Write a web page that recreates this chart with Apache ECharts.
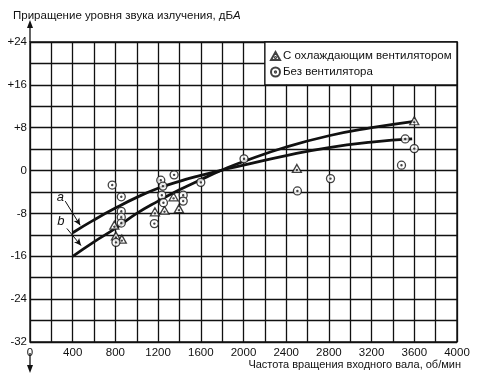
<!DOCTYPE html>
<html><head><meta charset="utf-8">
<script src="https://cdn.jsdelivr.net/npm/echarts@6/dist/echarts.min.js"></script>
<style>html,body{margin:0;padding:0;background:#fff}#c{width:482px;height:388px}</style>
</head><body><div id="c"></div>
<script>
// ---- data ----
const yTitle = 'Приращение уровня звука излучения, дБ';
const yTitleUnitItalic = 'А';
const xTitle = 'Частота вращения входного вала, об/мин';
const legendFan = 'С охлаждающим вентилятором';
const legendNoFan = 'Без вентилятора';

const curveARpm = [400, 600, 800, 1000, 1200, 1400, 1600, 1800, 2000, 2400, 2800, 3200, 3580];
const curveA    = [-11.6, -9.2, -7.0, -5.0, -3.3, -2.0, -0.9, 0.1, 1.0, 2.8, 4.3, 5.3, 5.9];
const curveBRpm = [400, 600, 800, 1000, 1200, 1400, 1600, 1800, 2000, 2400, 2800, 3200, 3600];
const curveB    = [-16.0, -13.3, -10.8, -8.0, -5.7, -3.6, -1.7, 0.1, 1.7, 4.4, 6.5, 8.0, 9.2];

const fanRpm = [790, 805, 860, 1170, 1260, 1345, 1395, 2500, 3600];
const fanDb  = [-10.2, -12.2, -12.8, -7.7, -7.4, -4.9, -7.1, 0.4, 9.3];

const noFanRpm = [770, 855, 855, 855, 855, 805, 1225, 1245, 1235, 1250, 1165, 1350, 1435, 1435, 1600, 2005, 2505, 2815, 3515, 3600, 3480];
const noFanDb  = [-2.7, -4.9, -7.6, -8.7, -9.8, -13.4, -1.8, -2.9, -4.6, -6.0, -9.9, -0.8, -4.6, -5.7, -2.2, 2.2, -3.8, -1.5, 5.9, 4.1, 1.0];

const curveLabels = ['a', 'b'];
const labelPos = [[285, -5.0], [288, -9.4]];
const arrowA = [[330, -5.7], [470, -10.2]];
const arrowB = [[345, -10.8], [478, -14.0]];
const legendBox = [[2200, 24], [4000, 16]];

// ---- chart ----
const zip = (xs, ys) => xs.map((x, i) => [x, ys[i]]);
const ringPath = 'path://M0,10A10,10 0 1,1 20,10A10,10 0 1,1 0,10Z M8.6,10A1.4,1.4 0 1,1 11.4,10A1.4,1.4 0 1,1 8.6,10Z';
const triPath = 'path://M10,0L20,18L0,18Z M8.8,12.5A1.2,1.2 0 1,1 11.2,12.5A1.2,1.2 0 1,1 8.8,12.5Z';
const font = 'Liberation Sans, Arial, sans-serif';

const chart = echarts.init(document.getElementById('c'), null, {renderer: 'canvas'});
const markerStyle = {color: '#fff', borderColor: '#111', borderWidth: 1.3};

chart.setOption({
  animation: false,
  backgroundColor: '#fff',
  textStyle: {fontFamily: font, color: '#111'},
  title: [{
    text: '{n|' + yTitle + '}{i|' + yTitleUnitItalic + '}',
    left: 8, top: 5,
    textStyle: {rich: {
      n: {fontSize: 11.5, fontFamily: font, color: '#111', fontWeight: 'normal'},
      i: {fontSize: 11.5, fontFamily: font, color: '#111', fontWeight: 'normal', fontStyle: 'italic'}
    }}
  }, {
    text: xTitle, right: 16, top: 354,
    textStyle: {fontSize: 11, fontWeight: 'normal', fontFamily: font, color: '#111'}
  }],
  legend: {
    data: [{name: legendFan, icon: triPath}, {name: legendNoFan, icon: ringPath}],
    orient: 'vertical', left: 265, top: 45, itemWidth: 9, itemHeight: 9, itemGap: 4,
    textStyle: {fontSize: 11.5, fontFamily: font, color: '#111', padding: [0, 0, 0, -2]}
  },
  grid: {left: 30, right: 25, top: 42, bottom: 46, show: true, borderColor: '#111', borderWidth: 1.4},
  xAxis: {
    type: 'value', min: 0, max: 4000, interval: 200,
    axisLine: {show: false}, axisTick: {show: false},
    axisLabel: {fontSize: 11.5, color: '#111', margin: 5,
      formatter: v => (v % 400 === 0 ? String(v) : '')},
    splitLine: {show: true, lineStyle: {color: '#111', width: 1.3}}
  },
  yAxis: {
    type: 'value', min: -32, max: 24, interval: 4,
    axisLine: {show: false}, axisTick: {show: false},
    axisLabel: {fontSize: 11.5, color: '#111', margin: 3,
      formatter: v => (v % 8 === 0 ? (v > 0 ? '+' + v : String(v)) : '')},
    splitLine: {show: true, lineStyle: {color: '#111', width: 1.3}}
  },
  series: [
    {
      name: 'legendArea', type: 'line', data: [], silent: true,
      markArea: {silent: true,
        itemStyle: {color: '#fff', opacity: 1, borderColor: '#111', borderWidth: 1.4},
        data: [[{coord: legendBox[0]}, {coord: legendBox[1]}]]}
    },
    {
      name: 'a', type: 'line', smooth: true, symbol: 'none',
      lineStyle: {color: '#111', width: 2.8}, data: zip(curveARpm, curveA), z: 3,
      markLine: {silent: true, symbol: ['none', 'arrow'], symbolSize: [5, 7],
        lineStyle: {color: '#111', width: 1, type: 'solid'}, label: {show: false},
        data: [[{coord: arrowA[0]}, {coord: arrowA[1]}], [{coord: arrowB[0]}, {coord: arrowB[1]}]]},
      markPoint: {silent: true, symbol: 'circle', symbolSize: 1, itemStyle: {color: 'rgba(0,0,0,0)'},
        label: {show: true, position: 'inside', fontSize: 13, fontStyle: 'italic', color: '#111', fontFamily: font},
        data: curveLabels.map((t, i) => ({coord: labelPos[i], label: {formatter: t}}))}
    },
    {
      name: 'b', type: 'line', smooth: true, symbol: 'none',
      lineStyle: {color: '#111', width: 2.8}, data: zip(curveBRpm, curveB), z: 3
    },
    {
      name: legendFan, type: 'scatter', symbol: triPath, symbolSize: [9, 8],
      itemStyle: markerStyle, data: zip(fanRpm, fanDb), z: 5
    },
    {
      name: legendNoFan, type: 'scatter', symbol: ringPath, symbolSize: 8,
      itemStyle: markerStyle, data: zip(noFanRpm, noFanDb), z: 5
    }
  ]
});

// axis arrows (decoration) positioned from the axis scale
const pTop = chart.convertToPixel({gridIndex: 0}, [0, 24]);
const pBot = chart.convertToPixel({gridIndex: 0}, [0, -32]);
chart.setOption({graphic: [
  {type: 'line', shape: {x1: pTop[0], y1: pTop[1], x2: pTop[0], y2: pTop[1] - 16}, style: {stroke: '#111', lineWidth: 1.3}},
  {type: 'polygon', shape: {points: [[pTop[0], pTop[1] - 22], [pTop[0] - 3, pTop[1] - 14], [pTop[0] + 3, pTop[1] - 14]]}, style: {fill: '#111'}},
  {type: 'line', shape: {x1: pBot[0], y1: pBot[1] + 11, x2: pBot[0], y2: pBot[1] + 26}, style: {stroke: '#111', lineWidth: 1.3}},
  {type: 'polygon', shape: {points: [[pBot[0], pBot[1] + 31], [pBot[0] - 3, pBot[1] + 23], [pBot[0] + 3, pBot[1] + 23]]}, style: {fill: '#111'}}
]});
</script></body></html>
